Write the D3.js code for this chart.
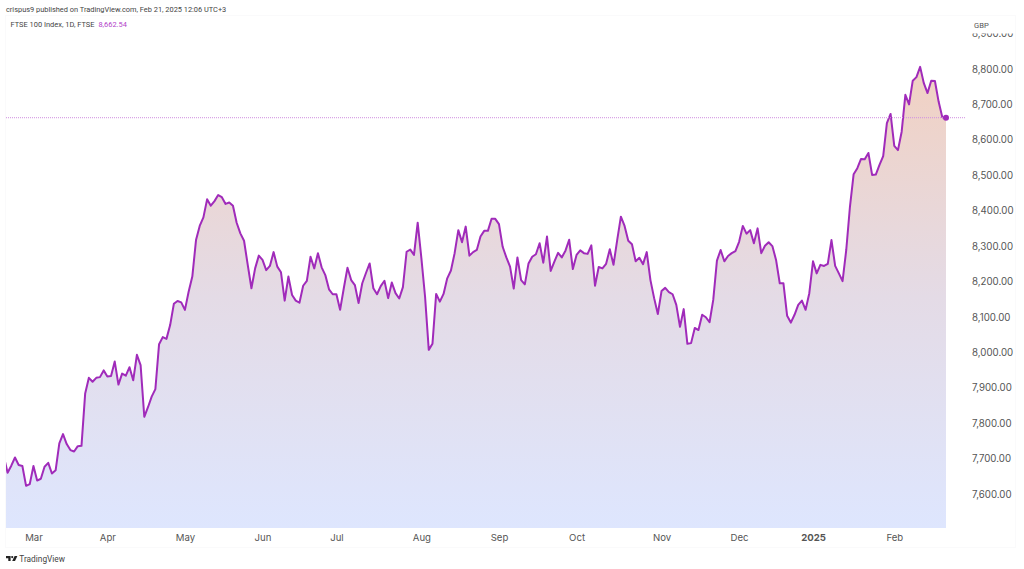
<!DOCTYPE html>
<meta charset="utf-8">
<style>
  html, body { margin: 0; padding: 0; background: #fff; }
  text { font-family: Inter, "Noto Sans", sans-serif; }
  .small { font-family: Roboto, "Noto Sans", sans-serif; }
</style>

<!-- Load d3.js -->
<script src="https://d3js.org/d3.v7.min.js"></script>

<!-- Create a div where the graph will take place -->
<div id="my_dataviz"></div>

<script>

// daily closes
const closes = [
  7705,7660,7680,7703,7682,7679,7623,7628,7679,7638,7643,7677,7688,7658,7667,7743,
  7769,7741,7724,7720,7735,7736,7884,7928,7917,7928,7930,7949,7932,7933,7974,7909,
  7940,7934,7958,7921,7993,7964,7818,7845,7875,7896,8023,8043,8038,8077,8137,8145,
  8141,8120,8171,8214,8317,8357,8381,8432,8414,8427,8444,8438,8419,8423,8414,8366,
  8336,8315,8247,8181,8237,8273,8261,8232,8244,8283,8242,8226,8146,8214,8162,8146,
  8140,8188,8202,8270,8237,8280,8240,8218,8178,8164,8164,8120,8181,8239,8204,8190,
  8139,8195,8224,8251,8181,8164,8187,8202,8153,8197,8167,8152,8184,8284,8290,8275,
  8366,8266,8157,8007,8024,8165,8143,8165,8209,8231,8280,8345,8311,8355,8273,8283,
  8289,8327,8343,8343,8377,8377,8362,8298,8268,8242,8180,8268,8204,8192,8251,8270,
  8277,8308,8253,8327,8230,8256,8281,8268,8287,8318,8235,8275,8288,8280,8278,8302,
  8188,8241,8237,8250,8291,8247,8317,8383,8357,8315,8305,8257,8267,8249,8283,8204,
  8153,8108,8173,8182,8170,8164,8134,8072,8122,8024,8026,8069,8063,8106,8099,8085,
  8148,8259,8289,8257,8272,8280,8286,8312,8357,8335,8345,8308,8350,8280,8301,8311,
  8300,8261,8195,8195,8103,8084,8106,8134,8146,8120,8167,8257,8223,8247,8244,8250,
  8317,8244,8223,8201,8289,8411,8503,8520,8546,8545,8563,8501,8502,8529,8554,8647,
  8673,8583,8571,8623,8727,8700,8767,8777,8806,8760,8732,8767,8766,8708,8664,8662.54
];

// x axis labels and the bar each one sits on
const monthLabels = ["Mar","Apr","May","Jun","Jul","Aug","Sep","Oct","Nov","Dec","2025","Feb"];
const monthBars = [8,28,49,70,90,113,134,155,178,199,219,241];

// y axis
const priceTicks = [7600,7700,7800,7900,8000,8100,8200,8300,8400,8500,8600,8700,8800,8900];

const lastPrice = closes[closes.length - 1];

const width = 1024, height = 569;
const plot = {left: 6, right: 968, top: 16, bottom: 528};

const svg = d3.select("#my_dataviz")
  .append("svg")
    .attr("width", width)
    .attr("height", height)
    .style("display", "block");

const x = d3.scaleLinear()
  .domain([0, closes.length - 1])
  .range([3.9, 946]);

// 8,800 sits at y=69 and 7,600 at y=494
const y = d3.scaleLinear()
  .domain([7600, 8800])
  .range([494, 69]);

// gradient under the line
const defs = svg.append("defs");
const grad = defs.append("linearGradient")
  .attr("id", "areaFill")
  .attr("gradientUnits", "userSpaceOnUse")
  .attr("x1", 0).attr("x2", 0)
  .attr("y1", y(d3.max(closes))).attr("y2", plot.bottom);
grad.append("stop").attr("offset", "0%").attr("stop-color", "#f1d1c2");
grad.append("stop").attr("offset", "50%").attr("stop-color", "#e4dbe6");
grad.append("stop").attr("offset", "100%").attr("stop-color", "#dee6fe");

defs.append("clipPath").attr("id", "plotClip")
  .append("rect")
    .attr("x", plot.left).attr("y", plot.top)
    .attr("width", plot.right - plot.left)
    .attr("height", plot.bottom - plot.top);

// faint frame around the chart
svg.append("rect")
  .attr("x", 5.5).attr("y", 15.5)
  .attr("width", 1010).attr("height", 532)
  .attr("fill", "none")
  .attr("stroke", "#fafafb");

const chart = svg.append("g").attr("clip-path", "url(#plotClip)");

chart.append("path")
  .datum(closes)
  .attr("fill", "url(#areaFill)")
  .attr("d", d3.area()
    .x((d, i) => x(i))
    .y0(plot.bottom)
    .y1(d => y(d)));

// dotted last price line
svg.append("line")
  .attr("x1", plot.left).attr("x2", 966)
  .attr("y1", y(lastPrice)).attr("y2", y(lastPrice))
  .attr("stroke", "#d08fe0")
  .attr("stroke-opacity", 0.8)
  .attr("stroke-width", 1.2)
  .attr("stroke-dasharray", "1 1");

chart.append("path")
  .datum(closes)
  .attr("fill", "none")
  .attr("stroke", "#a02bba")
  .attr("stroke-width", 2)
  .attr("stroke-linejoin", "round")
  .attr("d", d3.line()
    .x((d, i) => x(i))
    .y(d => y(d)));

svg.append("circle")
  .attr("cx", x(closes.length - 1))
  .attr("cy", y(lastPrice))
  .attr("r", 3)
  .attr("fill", "#a02bba");

// Y axis
const yAxis = svg.append("g")
  .attr("transform", "translate(972,0)")
  .call(d3.axisRight(y)
    .tickValues(priceTicks)
    .tickSize(0)
    .tickPadding(0)
    .tickFormat(d3.format(",.2f")));
yAxis.select(".domain").remove();
yAxis.selectAll("text")
  .attr("fill", "#555")
  .style("font-size", "9.7px");

// X axis
const xAxis = svg.append("g")
  .attr("transform", `translate(0,${plot.bottom})`)
  .call(d3.axisBottom(x)
    .tickValues(monthBars)
    .tickSize(0)
    .tickPadding(0)
    .tickFormat((d, i) => monthLabels[i]));
xAxis.select(".domain").remove();
xAxis.selectAll("text")
  .attr("dy", "0")
  .attr("y", 12.5)
  .attr("fill", "#555")
  .style("font-size", "9.6px")
  .style("font-weight", (d, i) => monthLabels[i] === "2025" ? "700" : "400");

// currency box covers the top tick label
svg.append("rect")
  .attr("x", 968).attr("y", 17)
  .attr("width", 47).attr("height", 16.5)
  .attr("fill", "#fff");
svg.append("text")
  .attr("class", "small")
  .attr("x", 974).attr("y", 27.5)
  .attr("fill", "#555")
  .style("font-size", "7.6px")
  .text("GBP");

// header texts
svg.append("text")
  .attr("class", "small")
  .attr("x", 6).attr("y", 11.5)
  .attr("fill", "#444")
  .style("font-size", "7.4px")
  .text("crispus9 published on TradingView.com, Feb 21, 2025 12:06 UTC+3");

const title = svg.append("text")
  .attr("class", "small")
  .attr("x", 10.5).attr("y", 27.3)
  .attr("fill", "#444")
  .style("font-size", "7.45px")
  .text("FTSE 100 Index, 1D, FTSE");
title.append("tspan")
  .attr("dx", 4)
  .attr("fill", "#b23fc9")
  .text(d3.format(",.2f")(lastPrice));

// TradingView logo
const logo = svg.append("g")
  .attr("transform", "translate(6,556)")
  .attr("fill", "#222");
logo.append("path").attr("d", "M0 0H4.6V5H2.3V2.2H0Z");
logo.append("circle").attr("cx", 6.2).attr("cy", 1.1).attr("r", 1.1);
logo.append("path").attr("d", "M8.6 0H11.4L9 5H6.2Z");

svg.append("text")
  .attr("class", "small")
  .attr("x", 19.3).attr("y", 561.8)
  .attr("fill", "#444")
  .style("font-size", "8.3px")
  .text("TradingView");

</script>
